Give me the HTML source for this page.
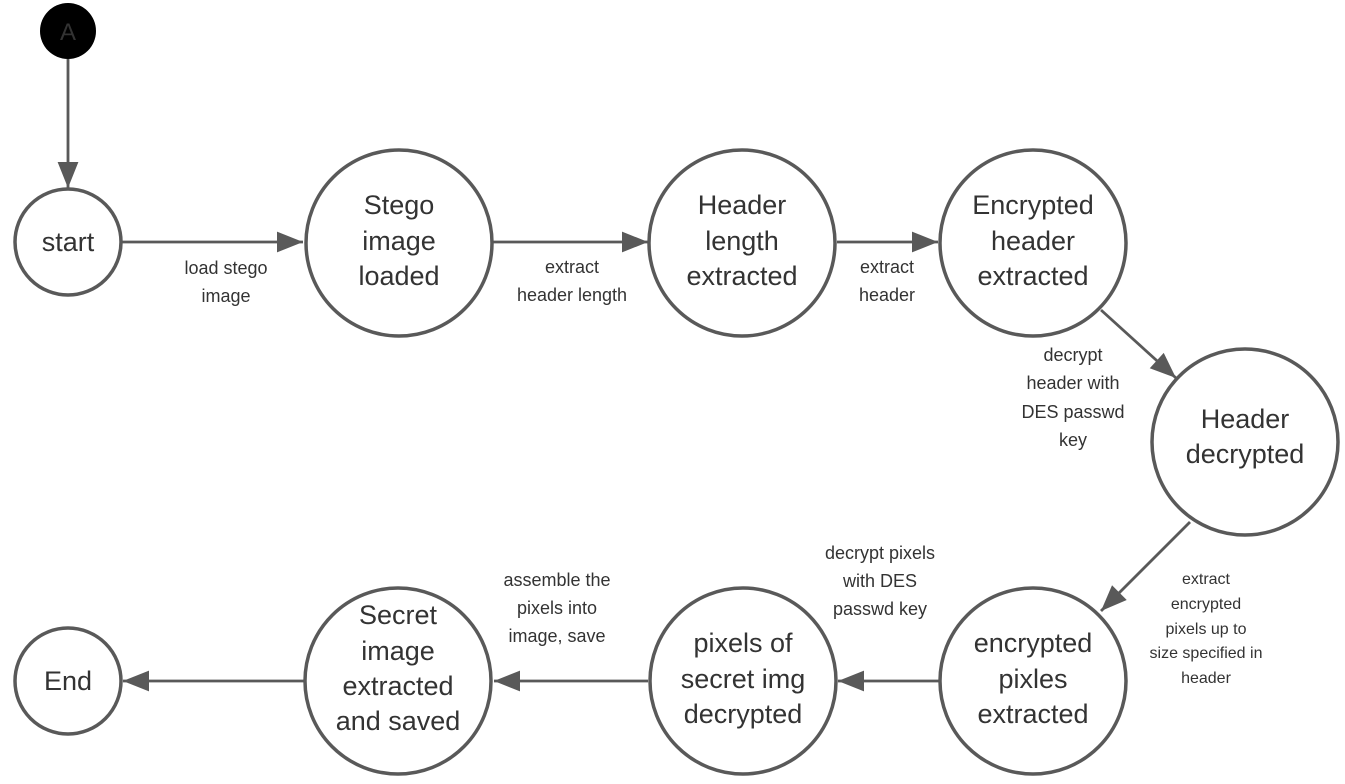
<!DOCTYPE html>
<html><head><meta charset="utf-8"><style>
html,body{margin:0;padding:0;background:#fff;}
svg{display:block;}
.n{fill:#fff;stroke:#595959;stroke-width:3.5;}
.l{stroke:#595959;stroke-width:2.8;fill:none;}
.t{font-family:"Liberation Sans",sans-serif;font-size:27px;fill:#333;text-anchor:middle;}
.s{font-family:"Liberation Sans",sans-serif;font-size:18px;fill:#333;text-anchor:middle;}
</style></head><body>
<svg width="1345" height="784" viewBox="0 0 1345 784" xmlns="http://www.w3.org/2000/svg">
<defs><marker id="a" markerWidth="10" markerHeight="8" refX="10" refY="4" orient="auto" markerUnits="userSpaceOnUse" viewBox="0 0 10 8" style="overflow:visible"><path d="M0,0 L10,4 L0,8 Z" fill="#595959" transform="scale(2.6)" transform-origin="10 4"/></marker></defs>
<circle cx="68" cy="31" r="28" fill="#000"/>
<text x="68" y="40" class="t" style="fill:#333;font-size:24px">A</text>
<line x1="68" y1="59" x2="68" y2="188" class="l" marker-end="url(#a)"/>
<line x1="121" y1="242" x2="303" y2="242" class="l" marker-end="url(#a)"/>
<line x1="493" y1="242" x2="648" y2="242" class="l" marker-end="url(#a)"/>
<line x1="837" y1="242" x2="938" y2="242" class="l" marker-end="url(#a)"/>
<line x1="1101" y1="310" x2="1176" y2="378" class="l" marker-end="url(#a)"/>
<line x1="1190" y1="522" x2="1101" y2="611" class="l" marker-end="url(#a)"/>
<line x1="940" y1="681" x2="838" y2="681" class="l" marker-end="url(#a)"/>
<line x1="648" y1="681" x2="494" y2="681" class="l" marker-end="url(#a)"/>
<line x1="305" y1="681" x2="123" y2="681" class="l" marker-end="url(#a)"/>
<circle cx="68" cy="242" r="53" class="n"/>
<text x="68" y="251" class="t">start</text>
<circle cx="399" cy="243" r="93" class="n"/>
<text class="t"><tspan x="399" y="214">Stego</tspan><tspan x="399" y="250">image</tspan><tspan x="399" y="285">loaded</tspan></text>
<circle cx="742" cy="243" r="93" class="n"/>
<text class="t"><tspan x="742" y="214">Header</tspan><tspan x="742" y="250">length</tspan><tspan x="742" y="285">extracted</tspan></text>
<circle cx="1033" cy="243" r="93" class="n"/>
<text class="t"><tspan x="1033" y="214">Encrypted</tspan><tspan x="1033" y="250">header</tspan><tspan x="1033" y="285">extracted</tspan></text>
<circle cx="1245" cy="442" r="93" class="n"/>
<text class="t"><tspan x="1245" y="428">Header</tspan><tspan x="1245" y="463">decrypted</tspan></text>
<circle cx="1033" cy="681" r="93" class="n"/>
<text class="t"><tspan x="1033" y="652">encrypted</tspan><tspan x="1033" y="688">pixles</tspan><tspan x="1033" y="723">extracted</tspan></text>
<circle cx="743" cy="681" r="93" class="n"/>
<text class="t"><tspan x="743" y="652">pixels of</tspan><tspan x="743" y="688">secret img</tspan><tspan x="743" y="723">decrypted</tspan></text>
<circle cx="398" cy="681" r="93" class="n"/>
<text class="t"><tspan x="398" y="624">Secret</tspan><tspan x="398" y="660">image</tspan><tspan x="398" y="695">extracted</tspan><tspan x="398" y="730">and saved</tspan></text>
<circle cx="68" cy="681" r="53" class="n"/>
<text x="68" y="690" class="t">End</text>
<text class="s"><tspan x="226" y="274">load stego</tspan><tspan x="226" y="302">image</tspan></text>
<text class="s"><tspan x="572" y="273">extract</tspan><tspan x="572" y="301">header length</tspan></text>
<text class="s"><tspan x="887" y="273">extract</tspan><tspan x="887" y="301">header</tspan></text>
<text class="s"><tspan x="1073" y="361">decrypt</tspan><tspan x="1073" y="389">header with</tspan><tspan x="1073" y="418">DES passwd</tspan><tspan x="1073" y="446">key</tspan></text>
<text class="s" style="font-size:16px"><tspan x="1206" y="584">extract</tspan><tspan x="1206" y="609">encrypted</tspan><tspan x="1206" y="634">pixels up to</tspan><tspan x="1206" y="658">size specified in</tspan><tspan x="1206" y="683">header</tspan></text>
<text class="s"><tspan x="880" y="559">decrypt pixels</tspan><tspan x="880" y="587">with DES</tspan><tspan x="880" y="615">passwd key</tspan></text>
<text class="s"><tspan x="557" y="586">assemble the</tspan><tspan x="557" y="614">pixels into</tspan><tspan x="557" y="642">image, save</tspan></text>
</svg>
</body></html>
